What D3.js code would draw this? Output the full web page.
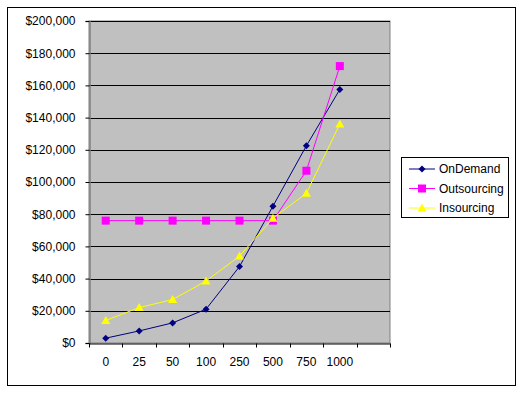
<!DOCTYPE html>
<html>
<head>
<meta charset="utf-8">
<script src="https://cdn.jsdelivr.net/npm/d3@7"></script>
<style>
  body { margin: 0; background: #fff; }
  svg text { font-family: "Liberation Sans", Arial, sans-serif; font-size: 12px; fill: #000; }
</style>
</head>
<body>
<svg id="chart" width="523" height="394"></svg>
<script>
// categories (last slot is empty, as in the original sheet)
const categories = ['0', '25', '50', '100', '250', '500', '750', '1000', '']
const yTicks = [0, 20000, 40000, 60000, 80000, 100000, 120000, 140000, 160000, 180000, 200000]

const onDemand = [3000, 7500, 12500, 21000, 47500, 85000, 122500, 157500]
const outsourcing = [76000, 76000, 76000, 76000, 76000, 76000, 107000, 172000]
const insourcing = [14000, 22000, 27000, 38500, 54000, 77500, 93000, 136000]

const series = [
  { name: 'OnDemand', values: onDemand, color: '#000080', marker: 'diamond' },
  { name: 'Outsourcing', values: outsourcing, color: '#ff00ff', marker: 'square' },
  { name: 'Insourcing', values: insourcing, color: '#ffff00', marker: 'triangle' }
]

const svg = d3.select('#chart')
const plot = { left: 89, top: 21, right: 390, bottom: 343 }

// outer frame
svg.append('rect')
  .attr('x', 7.5).attr('y', 7.5).attr('width', 508).attr('height', 378)
  .attr('fill', '#fff').attr('stroke', '#000').attr('stroke-width', 1)

const x = d3.scaleBand().domain(categories).range([plot.left, plot.right])
const y = d3.scaleLinear().domain([0, 200000]).range([plot.bottom, plot.top])

// plot background
svg.append('rect')
  .attr('x', plot.left).attr('y', plot.top)
  .attr('width', plot.right - plot.left).attr('height', plot.bottom - plot.top)
  .attr('fill', '#c0c0c0').attr('stroke', '#808080').attr('stroke-width', 1)

// gridlines
svg.append('g').selectAll('line').data(yTicks.slice(1)).join('line')
  .attr('x1', plot.left).attr('x2', plot.right)
  .attr('y1', d => Math.round(y(d)) + 0.5).attr('y2', d => Math.round(y(d)) + 0.5)
  .attr('stroke', '#000').attr('stroke-width', 1)

// y axis
const yAxis = svg.append('g')
  .attr('transform', `translate(${plot.left + 0.5},0)`)
  .call(d3.axisLeft(y).tickValues(yTicks).tickSize(4).tickPadding(10)
    .tickFormat(d => '$' + d3.format(',')(d)))
yAxis.select('.domain').attr('stroke', '#808080').attr('stroke-width', 1.5)
yAxis.selectAll('.tick line').attr('stroke', '#000')
yAxis.selectAll('text').style('font-size', '12px')

// x axis: labels centred in bands, ticks on band edges
const xAxis = svg.append('g')
  .attr('transform', `translate(0,${plot.bottom + 0.5})`)
  .call(d3.axisBottom(x).tickSize(0).tickPadding(14))
xAxis.select('.domain').attr('stroke', '#000')
xAxis.selectAll('text').style('font-size', '12px')
const edges = categories.map(c => x(c)).concat([plot.right])
xAxis.selectAll('.edge').data(edges).join('line')
  .attr('class', 'edge')
  .attr('x1', d => Math.round(d) + 0.5).attr('x2', d => Math.round(d) + 0.5)
  .attr('y1', 0).attr('y2', 4)
  .attr('stroke', '#000')

const cx = i => x(categories[i]) + x.bandwidth() / 2

function drawMarker(g, type, color) {
  if (type === 'diamond') {
    g.append('path').attr('d', 'M0,-3.5L3.5,0L0,3.5L-3.5,0Z').attr('fill', color)
  } else if (type === 'square') {
    g.append('rect').attr('x', -4).attr('y', -4).attr('width', 8).attr('height', 8).attr('fill', color)
  } else {
    g.append('path').attr('d', 'M0,-4.5L4.5,3.5L-4.5,3.5Z').attr('fill', color)
  }
}

const line = d3.line().x((d, i) => cx(i)).y(d => y(d))

series.forEach(s => {
  svg.append('path')
    .datum(s.values)
    .attr('d', line)
    .attr('fill', 'none')
    .attr('stroke', s.color)
    .attr('stroke-width', 1)
  s.values.forEach((v, i) => {
    const g = svg.append('g').attr('transform', `translate(${cx(i)},${y(v)})`)
    drawMarker(g, s.marker, s.color)
  })
})

// legend
const legend = svg.append('g').attr('transform', 'translate(401,157)')
legend.append('rect')
  .attr('x', 0.5).attr('y', 0.5).attr('width', 107).attr('height', 60)
  .attr('fill', '#fff').attr('stroke', '#000')
series.forEach((s, i) => {
  const row = legend.append('g').attr('transform', `translate(0,${12 + i * 19.5})`)
  row.append('line').attr('x1', 8).attr('x2', 34).attr('y1', 0).attr('y2', 0)
    .attr('stroke', s.color)
  const m = row.append('g').attr('transform', 'translate(21,0)')
  drawMarker(m, s.marker, s.color)
  row.append('text').attr('x', 38).attr('y', 0).attr('dy', '0.35em').text(s.name)
})
</script>
</body>
</html>
